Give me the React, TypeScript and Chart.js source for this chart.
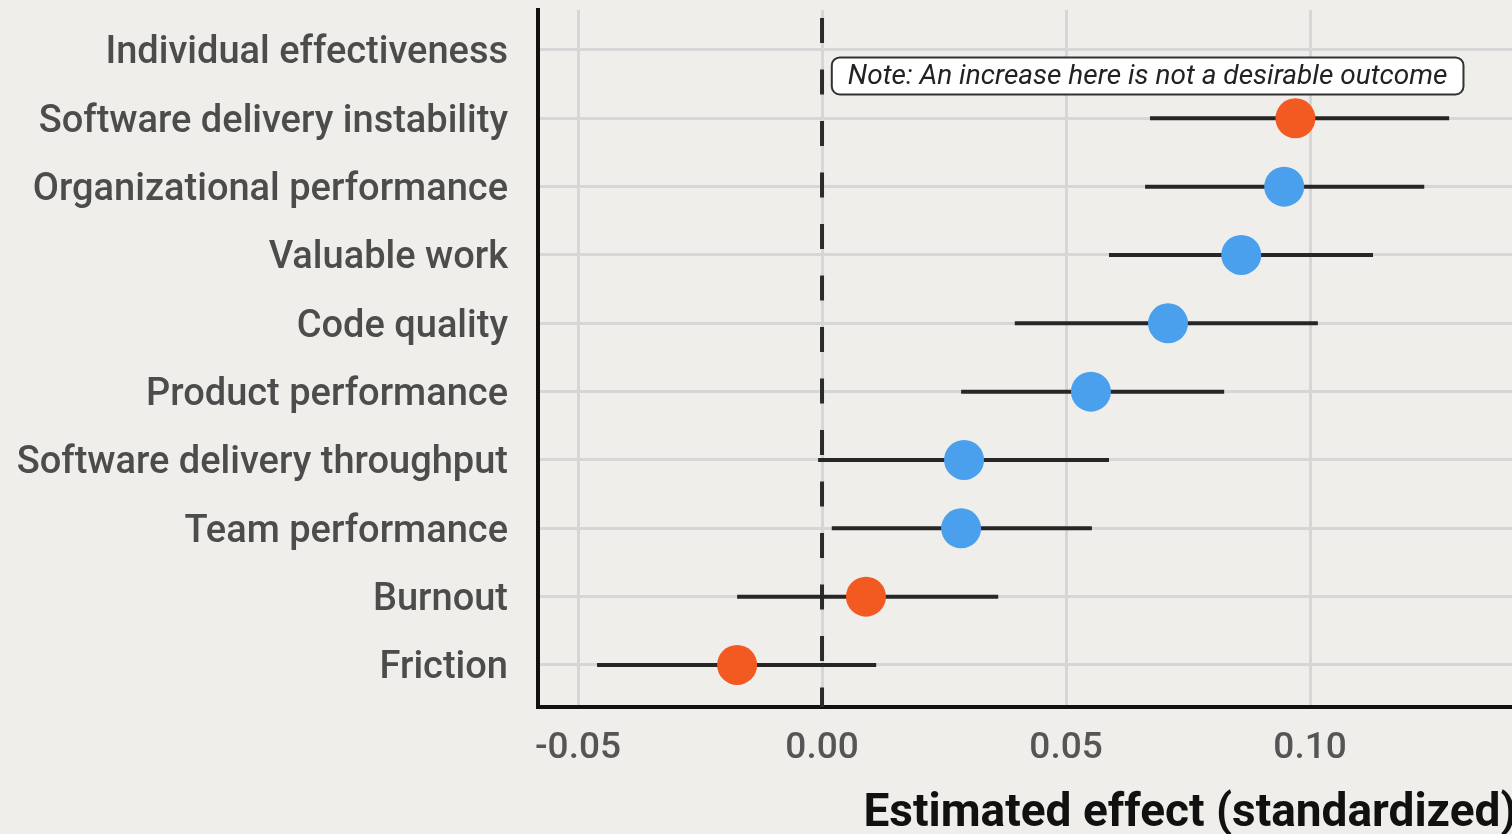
import React, { useEffect, useRef } from "react";
import { Chart, registerables } from "chart.js";

Chart.register(...registerables);

// ---------- data ----------
const categories = [
  "Individual effectiveness",
  "Software delivery instability",
  "Organizational performance",
  "Valuable work",
  "Code quality",
  "Product performance",
  "Software delivery throughput",
  "Team performance",
  "Burnout",
  "Friction",
];
const estimates: (number | null)[] = [null, 0.097, 0.0947, 0.0859, 0.0709, 0.0551, 0.0291, 0.0285, 0.009, -0.0174];
const lowerCI: (number | null)[] = [null, 0.0672, 0.0662, 0.0588, 0.0395, 0.0285, -0.0008, 0.002, -0.0174, -0.0461];
const upperCI: (number | null)[] = [null, 0.1285, 0.1234, 0.1129, 0.1016, 0.0824, 0.0588, 0.0553, 0.0361, 0.0111];
const undesirable = [false, true, false, false, false, false, false, false, true, true];
const xTickStep = 0.05;
const axisTitle = "Estimated effect (standardized)";
const noteText = "Note: An increase here is not a desirable outcome";
const noteAnchor = { x: 0.002, y: 9.62 };
const referenceValue = 0;

// ---------- layout / style ----------
const CANVAS_W = 1842;
const CANVAS_H = 834;
const X_MIN = -0.0582;
const X_MAX = 0.209;
const Y_MIN = 0.385;
const Y_MAX = 10.585;
const BG = "#EFEEEB";
const ORANGE = "#F25A21";
const BLUE = "#4AA0EC";
const FONT = "Roboto, 'Noto Sans', sans-serif";

const rowValue = (i: number) => categories.length - i;

const zeroLinePlugin = {
  id: "zeroLine",
  beforeDatasetsDraw(chart: any) {
    const { ctx, chartArea, scales } = chart;
    const x = scales.x.getPixelForValue(referenceValue);
    ctx.save();
    ctx.strokeStyle = "#2b2b2b";
    ctx.lineWidth = 4;
    ctx.setLineDash([25, 26.5]);
    ctx.beginPath();
    ctx.moveTo(x, chartArea.top + 8);
    ctx.lineTo(x, chartArea.bottom);
    ctx.stroke();
    ctx.restore();
  },
};

const notePlugin = {
  id: "note",
  afterDatasetsDraw(chart: any) {
    const { ctx, scales } = chart;
    const x = scales.x.getPixelForValue(noteAnchor.x);
    const yc = scales.y.getPixelForValue(noteAnchor.y);
    ctx.save();
    ctx.font = `italic 28px ${FONT}`;
    const tw = ctx.measureText(noteText).width;
    const padX = 16;
    const h = 37;
    const w = tw + padX * 2;
    ctx.beginPath();
    ctx.roundRect(x, yc - h / 2, w, h, 8);
    ctx.fillStyle = "#ffffff";
    ctx.fill();
    ctx.lineWidth = 2;
    ctx.strokeStyle = "#333333";
    ctx.stroke();
    ctx.fillStyle = "#222222";
    ctx.textBaseline = "middle";
    ctx.textAlign = "left";
    ctx.fillText(noteText, x + padX, yc + 1);
    ctx.restore();
  },
};

export default function App() {
  const canvasRef = useRef<HTMLCanvasElement | null>(null);

  useEffect(() => {
    if (!canvasRef.current) return;

    const ciDatasets: any[] = [];
    categories.forEach((c, i) => {
      const lo = lowerCI[i];
      const hi = upperCI[i];
      if (lo == null || hi == null) return;
      ciDatasets.push({
        label: c + " CI",
        data: [
          { x: lo, y: rowValue(i) },
          { x: hi, y: rowValue(i) },
        ],
        showLine: true,
        borderColor: "#262626",
        borderWidth: 4,
        pointRadius: 0,
        order: 2,
      });
    });

    const pts: any[] = [];
    const colors: string[] = [];
    categories.forEach((c, i) => {
      const v = estimates[i];
      if (v == null) return;
      pts.push({ x: v, y: rowValue(i) });
      colors.push(undesirable[i] ? ORANGE : BLUE);
    });

    const chart = new Chart(canvasRef.current, {
      type: "scatter",
      data: {
        datasets: [
          {
            label: "Estimate",
            data: pts,
            backgroundColor: colors,
            borderColor: colors,
            borderWidth: 0,
            pointRadius: 20,
            pointHoverRadius: 20,
            order: 1,
          },
          ...ciDatasets,
        ],
      },
      options: {
        animation: false,
        responsive: false,
        devicePixelRatio: 1,
        layout: { autoPadding: false, padding: { top: 10, left: 0, right: 0, bottom: 0 } },
        plugins: {
          legend: { display: false },
          tooltip: { enabled: false },
        },
        scales: {
          x: {
            type: "linear",
            min: X_MIN,
            max: X_MAX,
            afterFit(scale: any) {
              scale.height = CANVAS_H - 707;
              scale.paddingLeft = 0;
              scale.paddingRight = 0;
            },
            border: { display: true, color: "#111111", width: 4 },
            grid: { color: "#D6D6D6", lineWidth: 3, drawTicks: false },
            ticks: {
              stepSize: xTickStep,
              includeBounds: false,
              padding: 20,
              color: "#555555",
              font: { family: FONT, size: 37, weight: "500" },
              callback: (v: any) => {
                const n = Number(v);
                return (Math.abs(n) < 1e-9 ? 0 : n).toFixed(2);
              },
            },
            title: {
              display: true,
              text: axisTitle,
              color: "#111111",
              font: { family: FONT, size: 46, weight: "bold", lineHeight: 1 },
              padding: { top: 0, bottom: -3 },
            },
          },
          y: {
            type: "linear",
            min: Y_MIN,
            max: Y_MAX,
            afterFit(scale: any) {
              scale.width = 538;
              scale.paddingTop = 0;
              scale.paddingBottom = 0;
            },
            border: { display: true, color: "#111111", width: 4 },
            grid: { color: "#D6D6D6", lineWidth: 3, drawTicks: false },
            ticks: {
              stepSize: 1,
              includeBounds: false,
              padding: 30,
              labelOffset: 4,
              color: "#4C4C4C",
              font: { family: FONT, size: 38, weight: "500" },
              callback: (v: any) => {
                const n = Number(v);
                if (!Number.isInteger(n)) return "";
                return categories[categories.length - n] ?? "";
              },
            },
          },
        },
      },
      plugins: [zeroLinePlugin, notePlugin],
    });

    return () => chart.destroy();
  }, []);

  return (
    <div
      style={{
        position: "fixed",
        left: 0,
        top: 0,
        width: 1512,
        height: CANVAS_H,
        overflow: "hidden",
        background: BG,
      }}
    >
      <canvas
        ref={canvasRef}
        width={CANVAS_W}
        height={CANVAS_H}
        style={{ width: CANVAS_W, height: CANVAS_H, display: "block" }}
      />
    </div>
  );
}
